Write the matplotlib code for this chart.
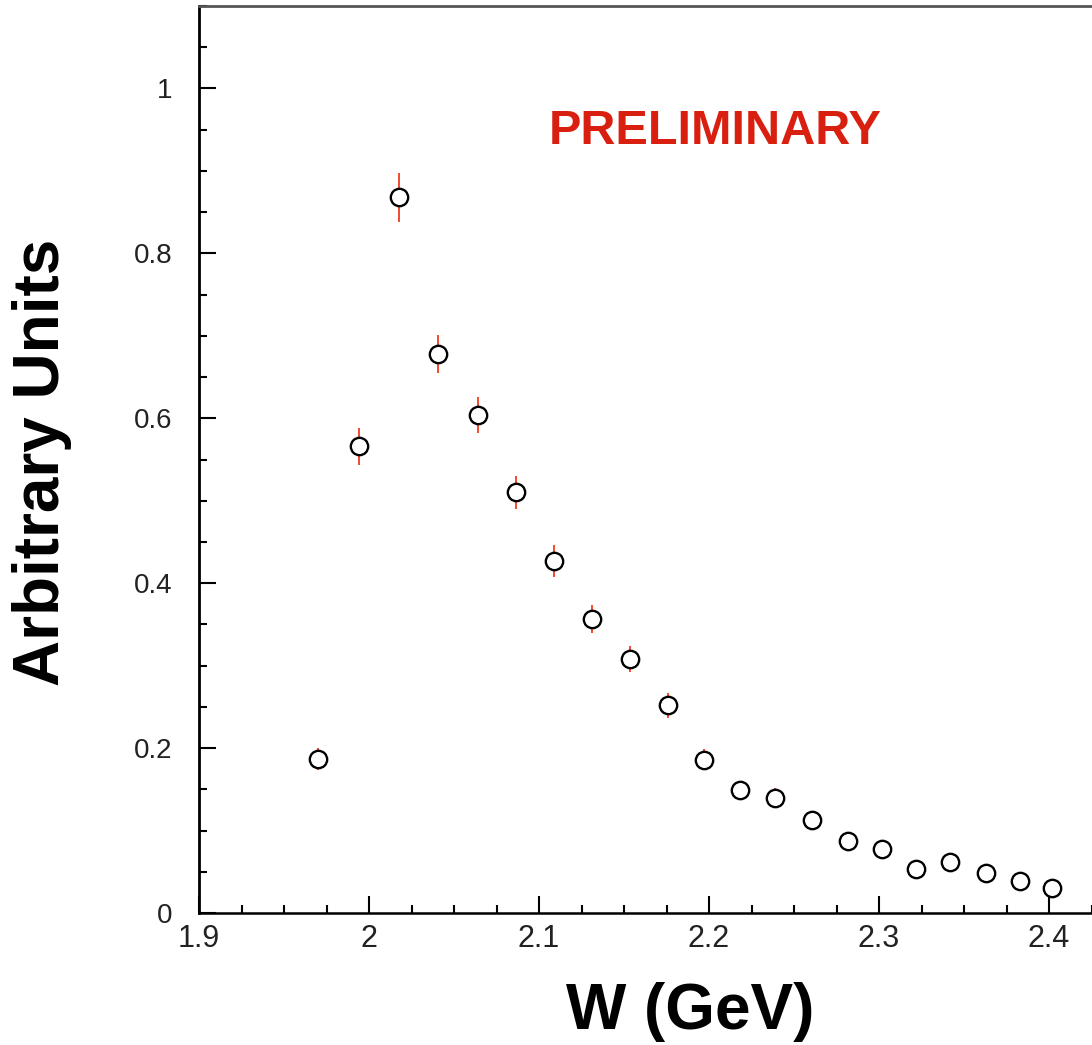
import matplotlib
matplotlib.use('Agg')
import matplotlib.pyplot as plt
from matplotlib.ticker import MultipleLocator, FormatStrFormatter

# data
w = [1.970, 1.994, 2.0176, 2.0406, 2.064, 2.0865, 2.109, 2.131, 2.1535, 2.176, 2.197,
     2.218, 2.239, 2.2606, 2.2818, 2.3018, 2.322, 2.342, 2.363, 2.383, 2.402]
y = [0.187, 0.566, 0.868, 0.678, 0.604, 0.510, 0.427, 0.357, 0.308, 0.252, 0.186,
     0.149, 0.140, 0.113, 0.087, 0.078, 0.053, 0.062, 0.049, 0.039, 0.030]
yerr = [0.013, 0.0225, 0.030, 0.023, 0.022, 0.020, 0.019, 0.017, 0.016, 0.015, 0.013,
        0.0115, 0.011, 0.010, 0.009, 0.009, 0.008, 0.008, 0.008, 0.007, 0.007]

plt.rcParams['font.family'] = ['Liberation Sans', 'DejaVu Sans']

fig = plt.figure(figsize=(10.92, 10.45), dpi=100)
ax = fig.add_axes([199/1092, 132/1045, 893/1092, 907/1045])

# error bars first, then open circles on top
ax.errorbar(w, y, yerr=yerr, fmt='none', ecolor='#f03c1e', elinewidth=1.3, zorder=2)
ax.plot(w, y, 'o', mfc='white', mec='black', ms=12.5, mew=1.7, zorder=3)

ax.set_xlim(1.9, 1.9 + 893/1700)
ax.set_ylim(0, 1.1)

ax.xaxis.set_major_locator(MultipleLocator(0.1))
ax.xaxis.set_minor_locator(MultipleLocator(0.025))
ax.yaxis.set_major_locator(MultipleLocator(0.2))
ax.yaxis.set_minor_locator(MultipleLocator(0.05))
ax.xaxis.set_major_formatter(FormatStrFormatter('%g'))
ax.yaxis.set_major_formatter(FormatStrFormatter('%g'))

ax.tick_params(which='both', direction='in', colors='black', labelcolor='#222222',
               width=1.5)
ax.tick_params(which='major', length=12)
ax.tick_params(which='minor', length=6)
ax.tick_params(axis='y', pad=19, labelsize=20)
ax.tick_params(axis='x', pad=8, labelsize=22)

ax.spines['right'].set_visible(False)
ax.spines['left'].set_linewidth(2)
ax.spines['bottom'].set_linewidth(1.8)
ax.spines['top'].set_linewidth(2)
ax.spines['top'].set_color('#555555')

fig.text(715/1092, 1 - 132/1045, 'PRELIMINARY', color='#d92010', fontsize=35,
         fontweight='bold', ha='center', va='center')
fig.text(690/1092, 1 - 1012/1045, 'W (GeV)', fontsize=46, fontweight='bold',
         ha='center', va='center')
fig.text(42/1092, 1 - 462/1045, 'Arbitrary Units', fontsize=46, fontweight='bold',
         ha='center', va='center', rotation=90)

fig.savefig('out.png', dpi=100)
